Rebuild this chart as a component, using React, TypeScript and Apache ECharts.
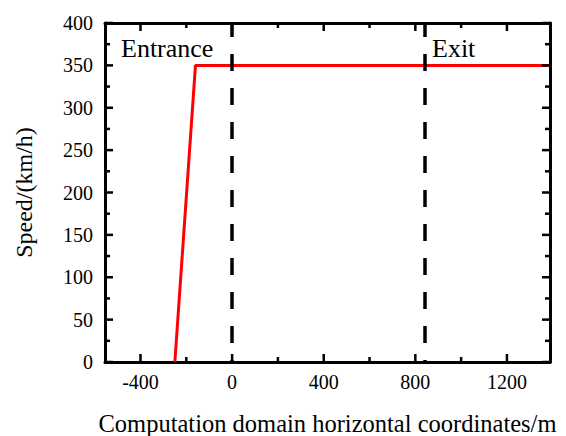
import React, { useEffect, useRef } from "react";
import * as echarts from "echarts";

const xMajor = [-400, 0, 400, 800, 1200];
const xMinor = [-200, 200, 600, 1000];
const yMajor = [0, 50, 100, 150, 200, 250, 300, 350, 400];
const yMinor = [25, 75, 125, 175, 225, 275, 325, 375];
const speedLine: [number, number][] = [
  [-250, 0],
  [-160, 350],
  [1388, 350],
];
const boundaries = [0, 840];
const xRange = [-555, 1388];
const yRange = [0, 400];

const FONT = "'Liberation Serif', 'DejaVu Serif', serif";
const TICK_STYLE = { stroke: "#000", lineWidth: 2.5 };

export default function App() {
  const ref = useRef<HTMLDivElement>(null);
  useEffect(() => {
    const chart = echarts.init(ref.current!, undefined, { renderer: "svg" });
    const lineOn = { show: true, onZero: false, lineStyle: { color: "#000", width: 3 } };

    const xMain = (pos: "bottom" | "top", labels: boolean) => ({
      type: "value" as const,
      position: pos,
      min: xRange[0],
      max: xRange[1],
      axisLine: lineOn,
      splitLine: { show: false },
      axisTick: { show: false },
      axisLabel: labels
        ? {
            show: true,
            customValues: xMajor,
            formatter: (v: number) => String(v),
            color: "#000",
            fontFamily: FONT,
            fontSize: 20,
            margin: 10,
          }
        : { show: false },
      name: labels ? "Computation domain horizontal coordinates/m" : "",
      nameLocation: "middle" as const,
      nameGap: 49,
      nameTextStyle: { color: "#000", fontFamily: FONT, fontSize: 24.5 },
    });
    const yMain = (pos: "left" | "right", labels: boolean) => ({
      type: "value" as const,
      position: pos,
      min: yRange[0],
      max: yRange[1],
      interval: 50,
      axisLine: lineOn,
      splitLine: { show: false },
      axisTick: { show: false },
      axisLabel: labels
        ? { show: true, color: "#000", fontFamily: FONT, fontSize: 20, margin: 12 }
        : { show: false },
      name: labels ? "Speed/(km/h)" : "",
      nameLocation: "middle" as const,
      nameGap: 69,
      nameTextStyle: { color: "#000", fontFamily: FONT, fontSize: 24 },
    });

    // inward ticks on all four sides, placed through the axes' own scales
    const xTickSeries = (values: number[], len: number) => ({
      type: "custom" as const,
      xAxisIndex: 0,
      yAxisIndex: 0,
      clip: false,
      silent: true,
      z: 5,
      data: values.map((v) => [v, yRange[0]]),
      renderItem: (_p: any, api: any) => {
        const v = api.value(0);
        const b = api.coord([v, yRange[0]]);
        const t = api.coord([v, yRange[1]]);
        return {
          type: "group",
          children: [
            { type: "line", shape: { x1: b[0], y1: b[1], x2: b[0], y2: b[1] - len }, style: TICK_STYLE },
            { type: "line", shape: { x1: t[0], y1: t[1], x2: t[0], y2: t[1] + len }, style: TICK_STYLE },
          ],
        };
      },
    });
    const yTickSeries = (values: number[], len: number) => ({
      type: "custom" as const,
      xAxisIndex: 0,
      yAxisIndex: 0,
      clip: false,
      silent: true,
      z: 5,
      data: values.map((v) => [xRange[0], v]),
      renderItem: (_p: any, api: any) => {
        const v = api.value(1);
        const l = api.coord([xRange[0], v]);
        const r = api.coord([xRange[1], v]);
        return {
          type: "group",
          children: [
            { type: "line", shape: { x1: l[0], y1: l[1], x2: l[0] + len, y2: l[1] }, style: TICK_STYLE },
            { type: "line", shape: { x1: r[0], y1: r[1], x2: r[0] - len, y2: r[1] }, style: TICK_STYLE },
          ],
        };
      },
    });

    chart.setOption({
      animation: false,
      backgroundColor: "#fff",
      grid: { left: 105, right: 16, top: 23, bottom: 74, containLabel: false, outerBoundsMode: "none" },
      xAxis: [xMain("bottom", true), xMain("top", false)],
      yAxis: [yMain("left", true), yMain("right", false)],
      graphic: [
        {
          type: "text",
          left: 121,
          top: 35,
          style: { text: "Entrance", fontFamily: FONT, fontSize: 26, fill: "#000" },
        },
        {
          type: "text",
          left: 432,
          top: 35,
          style: { text: "Exit", fontFamily: FONT, fontSize: 26, fill: "#000" },
        },
      ],
      series: [
        {
          type: "line",
          xAxisIndex: 0,
          yAxisIndex: 0,
          data: speedLine,
          symbol: "none",
          lineStyle: { color: "#ff0000", width: 3 },
          z: 3,
          markLine: {
            silent: true,
            symbol: "none",
            label: { show: false },
            lineStyle: { color: "#000", width: 3.5, type: [17, 17], dashOffset: 15 },
            data: boundaries.map((v) => ({ xAxis: v })),
          },
        },
        xTickSeries(xMajor, 8),
        xTickSeries(xMinor, 5),
        yTickSeries(yMajor, 8),
        yTickSeries(yMinor, 5),
      ],
    });
    return () => chart.dispose();
  }, []);
  return <div ref={ref} style={{ width: 566, height: 436, marginLeft: -8, marginTop: -8 }} />;
}
